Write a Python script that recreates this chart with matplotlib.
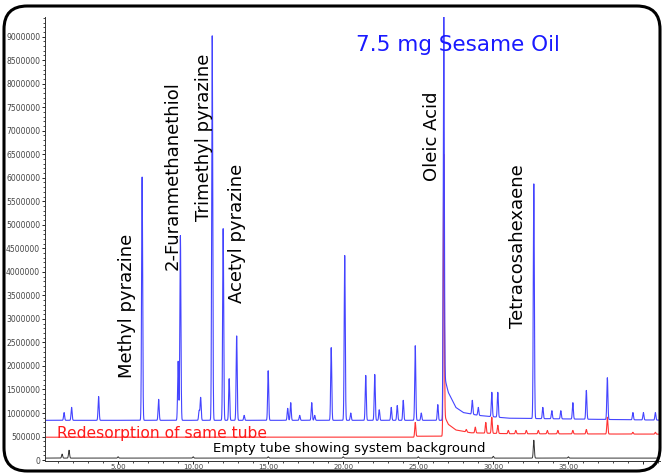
import numpy as np
import matplotlib
matplotlib.use('Agg')
import matplotlib.pyplot as plt
from matplotlib.patches import FancyBboxPatch
from matplotlib.ticker import MultipleLocator, FuncFormatter

# Peak tables: retention time (min) and apex intensity (counts)
SAMPLE_RT = [1.4, 1.9, 3.7, 6.6, 7.7, 9.0, 9.15, 10.4, 10.5, 11.27, 12.0, 12.4,
             12.9, 13.4, 15.0, 16.3, 16.5, 17.1, 17.9, 18.1, 19.2, 20.1, 20.5,
             21.5, 22.1, 22.4, 23.2, 23.6, 24.0, 24.8, 25.2, 26.3, 26.7, 28.6,
             29.0, 29.9, 30.3, 32.7, 33.3, 33.9, 34.5, 35.3, 36.2, 37.6, 39.3,
             40.0, 40.8]
SAMPLE_AREA = [1010000, 1120000, 1350000, 6020000, 1290000, 2100000, 4770000,
               1050000, 1330000, 9020000, 4920000, 1730000, 2640000, 950000,
               1900000, 1100000, 1220000, 950000, 1220000, 950000, 2390000,
               4350000, 1000000, 1800000, 1820000, 1070000, 1120000, 1160000,
               1270000, 2430000, 1000000, 1180000, 9600000, 1270000, 1120000,
               1440000, 1440000, 5870000, 1120000, 1050000, 1050000, 1220000,
               1480000, 1750000, 1010000, 1010000, 1010000]
SAMPLE_BASE_T = [0.0, 26.6, 26.8, 27.0, 27.5, 28.0, 29.0, 31.0, 42.0]
SAMPLE_BASE_V = [845000, 845000, 1700000, 1440000, 1120000, 1010000, 950000,
                 890000, 845000]

REDESORB_RT = [24.8, 26.7, 28.2, 28.8, 29.5, 29.9, 30.3, 31.0, 31.5, 32.2,
               33.0, 33.6, 34.3, 35.3, 36.2, 37.6, 39.3, 40.8]
REDESORB_AREA = [800000, 6500000, 650000, 700000, 800000, 910000, 740000,
                 630000, 630000, 630000, 630000, 630000, 630000, 630000,
                 650000, 910000, 590000, 590000]
REDESORB_BASE_T = [0.0, 24.7, 24.9, 26.6, 26.8, 27.0, 27.5, 28.5, 31.0, 42.0]
REDESORB_BASE_V = [486000, 486000, 507000, 507000, 900000, 760000, 640000,
                   580000, 560000, 550000]

BLANK_RT = [1.27, 1.73, 5.0, 10.0, 15.0, 20.0, 25.0, 30.0, 32.7, 35.0]
BLANK_AREA = [127000, 210000, 70000, 70000, 70000, 70000, 70000, 80000,
              422000, 70000]
BLANK_BASE = 42000

LABELS = ['Methyl pyrazine', '2-Furanmethanethiol', 'Trimethyl pyrazine',
          'Acetyl pyrazine', 'Oleic Acid', 'Tetracosahexaene']
LABEL_T = [5.6, 8.6, 10.73, 12.93, 25.93, 31.67]
LABEL_V = [1750000, 4030000, 5090000, 3340000, 5940000, 2810000]

t = np.linspace(0.0, 42.0, 12000)


def trace(rts, heights, base):
    # narrow gaussian peaks sitting on the baseline
    y = np.array(base, dtype=float)
    for rt, h in zip(rts, heights):
        b = np.interp(rt, t, base)
        y += (h - b) * np.exp(-0.5 * ((t - rt) / 0.035) ** 2)
    return y


def time_label(v, pos):
    # the last tick sits under the frame, leave it unlabelled
    return '%.2f' % v if v <= 35 else ''


sample = trace(SAMPLE_RT, SAMPLE_AREA, np.interp(t, SAMPLE_BASE_T, SAMPLE_BASE_V))
redesorb = trace(REDESORB_RT, REDESORB_AREA,
                 np.interp(t, REDESORB_BASE_T, REDESORB_BASE_V))
blank = trace(BLANK_RT, BLANK_AREA, np.full_like(t, BLANK_BASE))

fig = plt.figure(figsize=(6.64, 4.74), dpi=100)
ax = fig.add_axes([0.0678, 0.0274, 0.926, 0.937])

ax.plot(t, blank, color='#333333', lw=0.7)
ax.plot(t, redesorb, color='#ff3333', lw=0.8)
ax.plot(t, sample, color='#4444ff', lw=0.8)

ax.set_xlim(0.13, 41.1)
ax.set_ylim(-20000, 9420000)

ax.yaxis.set_major_locator(MultipleLocator(500000))
ax.yaxis.set_minor_locator(MultipleLocator(100000))
ax.yaxis.set_major_formatter(FuncFormatter(lambda v, p: '%d' % v))
ax.xaxis.set_major_locator(MultipleLocator(5))
ax.xaxis.set_minor_locator(MultipleLocator(1))
ax.xaxis.set_major_formatter(FuncFormatter(time_label))
ax.tick_params(axis='y', which='major', labelsize=5.5, length=2.5,
               width=0.6, pad=1, labelcolor='#444444')
ax.tick_params(axis='x', which='major', labelsize=5, length=2,
               width=0.6, pad=0.5, labelcolor='#444444')
ax.tick_params(axis='both', which='minor', length=1.5, width=0.5)

for side in ['top', 'right']:
    ax.spines[side].set_visible(False)
for side in ['left', 'bottom']:
    ax.spines[side].set_linewidth(0.7)
    ax.spines[side].set_color('#333333')

for name, x, y in zip(LABELS, LABEL_T, LABEL_V):
    ax.text(x, y, name, rotation=90, ha='center', va='bottom', fontsize=13,
            color='black')

ax.text(27.67, 8830000, '7.5 mg Sesame Oil', ha='center', va='center',
        fontsize=15.5, color='#1a1aff')
ax.text(0.93, 570000, 'Redesorption of same tube', ha='left', va='center',
        fontsize=11.2, color='#ff1a1a')
ax.text(11.33, 253000, 'Empty tube showing system background', ha='left',
        va='center', fontsize=9.5, color='black')

frame = FancyBboxPatch((4 / 664, 3 / 474), 656 / 664, 465 / 474,
                       boxstyle='round,pad=0,rounding_size=0.035',
                       transform=fig.transFigure, fill=False,
                       edgecolor='black', linewidth=2.2, mutation_aspect=664 / 474)
fig.patches.append(frame)

fig.savefig('out.png', dpi=100)
